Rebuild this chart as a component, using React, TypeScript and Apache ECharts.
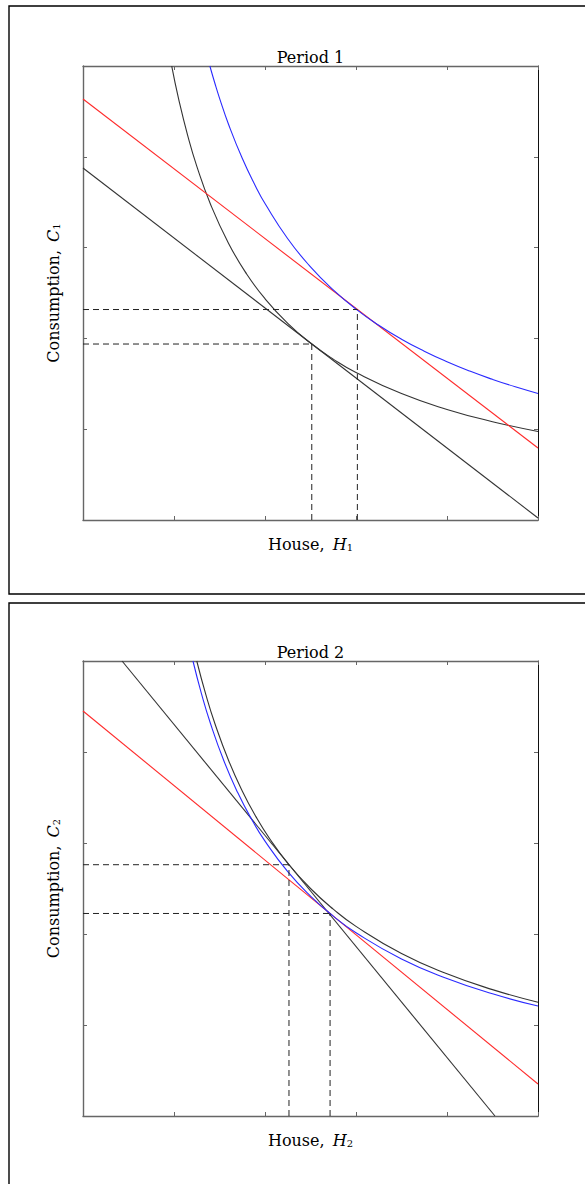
import React, { useEffect, useRef } from "react";
import * as echarts from "echarts";

// ---------- Period 1 ----------
const p1RedLine = [[0, 4.637], [5, 0.793]];
const p1BudgetLine = [[0, 3.877], [5, 0.022]];
const p1BlueCurve = [
  [1.394, 5.0], [1.45, 4.807], [1.5, 4.647], [1.6, 4.356], [1.75, 3.983], [1.9, 3.668],
  [2.0, 3.485], [2.25, 3.098], [2.5, 2.788], [2.75, 2.535], [3.0, 2.323], [3.25, 2.145],
  [3.5, 1.991], [3.75, 1.859], [4.0, 1.743], [4.25, 1.64], [4.5, 1.549], [4.75, 1.467], [5.0, 1.394],
];
const p1BlackCurve = [
  [0.975, 4.998], [1.05, 4.641], [1.15, 4.237], [1.25, 3.898], [1.4, 3.481], [1.6, 3.046],
  [1.8, 2.707], [2.0, 2.437], [2.25, 2.166], [2.5, 1.949], [2.75, 1.772], [3.0, 1.624],
  [3.5, 1.392], [4.0, 1.218], [4.5, 1.083], [5.0, 0.975],
];
const p1Opt1 = [3.015, 2.318];
const p1Opt2 = [2.514, 1.938];

// ---------- Period 2 ----------
const p2RedLine = [[0, 4.451], [5, 0.352]];
const p2BudgetLine = [[0.429, 5.0], [4.527, 0]];
const p2BlueCurve = [
  [1.2084, 5.0], [1.3, 4.648], [1.4, 4.316], [1.55, 3.898], [1.7, 3.554], [1.85, 3.266],
  [2.0, 3.021], [2.25, 2.685], [2.5, 2.417], [2.75, 2.197], [3.0, 2.014], [3.5, 1.726],
  [4.0, 1.511], [4.5, 1.343], [5.0, 1.208],
];
const p2BlackCurve = [
  [1.2502, 5.0], [1.35, 4.63], [1.45, 4.311], [1.6, 3.907], [1.75, 3.572], [1.9, 3.29],
  [2.05, 3.049], [2.25, 2.778], [2.5, 2.5], [2.75, 2.273], [3.0, 2.084], [3.5, 1.786],
  [4.0, 1.563], [4.5, 1.389], [5.0, 1.25],
];
const p2Opt1 = [2.2635, 2.7615];
const p2Opt2 = [2.715, 2.2255];

const titles = ["Period 1", "Period 2"];
const xLabels = ["House, {i|H}{s|1}", "House, {i|H}{s|2}"];
const yLabels = ["Consumption, {i|C}{s|1}", "Consumption, {i|C}{s|2}"];

const AXIS_MIN = 0;
const AXIS_MAX = 5;
const AXIS_INTERVAL = 1;

const FONT = '"DejaVu Serif", serif';

export default function App() {
  const ref = useRef<HTMLDivElement>(null);
  useEffect(() => {
    if (!ref.current) return;
    const chart = echarts.init(ref.current, undefined, { renderer: "svg" });

    const grids = [
      { left: 83, top: 66, width: 455, height: 454 },
      { left: 83, top: 661, width: 455, height: 455 },
    ];

    const axisBase = (pos: string, gridIndex: number) => ({
      type: "value",
      gridIndex,
      position: pos,
      min: AXIS_MIN,
      max: AXIS_MAX,
      interval: AXIS_INTERVAL,
      axisLabel: { show: false },
      splitLine: { show: false },
      axisLine: {
        show: true,
        onZero: false,
        lineStyle: { color: pos === "right" ? "#111" : "#666", width: pos === "right" ? 1 : 1.4 },
      },
      axisTick: { show: true, inside: true, length: 4, lineStyle: { color: "#666", width: 1 } },
    });

    const xAxes: any[] = [];
    const yAxes: any[] = [];
    [0, 1].forEach((g) => {
      xAxes.push(axisBase("bottom", g));
      xAxes.push(axisBase("top", g));
      yAxes.push(axisBase("left", g));
      yAxes.push(axisBase("right", g));
    });

    const line = (data: number[][], color: string, g: number, dashed = false, smooth = false) => ({
      type: "line",
      xAxisIndex: g * 2,
      yAxisIndex: g * 2,
      data,
      smooth,
      showSymbol: false,
      symbol: "none",
      silent: true,
      lineStyle: { color, width: dashed ? 1 : 1.1, type: dashed ? [6, 4] : "solid" },
    });

    const dashPair = (pt: number[], g: number) => [
      line([[AXIS_MIN, pt[1]], [pt[0], pt[1]]], "#222", g, true),
      line([[pt[0], AXIS_MIN], [pt[0], pt[1]]], "#222", g, true),
    ];

    const series: any[] = [
      line(p1BudgetLine, "#333", 0),
      line(p1BlackCurve, "#333", 0, false, true),
      line(p1RedLine, "#ff2a2a", 0),
      line(p1BlueCurve, "#2a2aff", 0, false, true),
      ...dashPair(p1Opt1, 0),
      ...dashPair(p1Opt2, 0),
      line(p2BudgetLine, "#333", 1),
      line(p2BlackCurve, "#333", 1, false, true),
      line(p2RedLine, "#ff2a2a", 1),
      line(p2BlueCurve, "#2a2aff", 1, false, true),
      ...dashPair(p2Opt1, 1),
      ...dashPair(p2Opt2, 1),
    ];

    const rich = {
      i: { fontFamily: FONT, fontStyle: "italic", fontSize: 16, fill: "#000", padding: [0, 0, 0, 3] },
      s: { fontFamily: FONT, fontSize: 10, fill: "#000", verticalAlign: "bottom", padding: [7, 0, 0, 0] },
    };

    const graphics: any[] = [
      {
        type: "rect",
        shape: { x: 9, y: 6, width: 640, height: 588 },
        style: { fill: "none", stroke: "#000", lineWidth: 1.4 },
        silent: true,
      },
      {
        type: "rect",
        shape: { x: 9, y: 603, width: 640, height: 640 },
        style: { fill: "none", stroke: "#000", lineWidth: 1.4 },
        silent: true,
      },
    ];
    [0, 1].forEach((g) => {
      const gr = grids[g];
      const cx = gr.left + gr.width / 2;
      const cy = gr.top + gr.height / 2;
      graphics.push({
        type: "text",
        x: cx,
        y: gr.top - 9,
        style: {
          text: titles[g],
          font: `16px ${FONT}`,
          fill: "#000",
          textAlign: "center",
          textVerticalAlign: "middle",
        },
      });
      graphics.push({
        type: "text",
        x: cx,
        y: gr.top + gr.height + 24,
        style: {
          text: xLabels[g],
          font: `16px ${FONT}`,
          fill: "#000",
          textAlign: "center",
          textVerticalAlign: "middle",
          rich,
        },
      });
      graphics.push({
        type: "text",
        x: 53,
        y: cy,
        rotation: Math.PI / 2,
        style: {
          text: yLabels[g],
          font: `16px ${FONT}`,
          fill: "#000",
          textAlign: "center",
          textVerticalAlign: "middle",
          rich,
        },
      });
    });

    chart.setOption({
      animation: false,
      backgroundColor: "#fff",
      grid: grids,
      xAxis: xAxes,
      yAxis: yAxes,
      series,
      graphic: graphics,
    });
    return () => chart.dispose();
  }, []);

  return (
    <div
      ref={ref}
      style={{ position: "fixed", left: 0, top: 0, width: 585, height: 1184, background: "#fff" }}
    />
  );
}
